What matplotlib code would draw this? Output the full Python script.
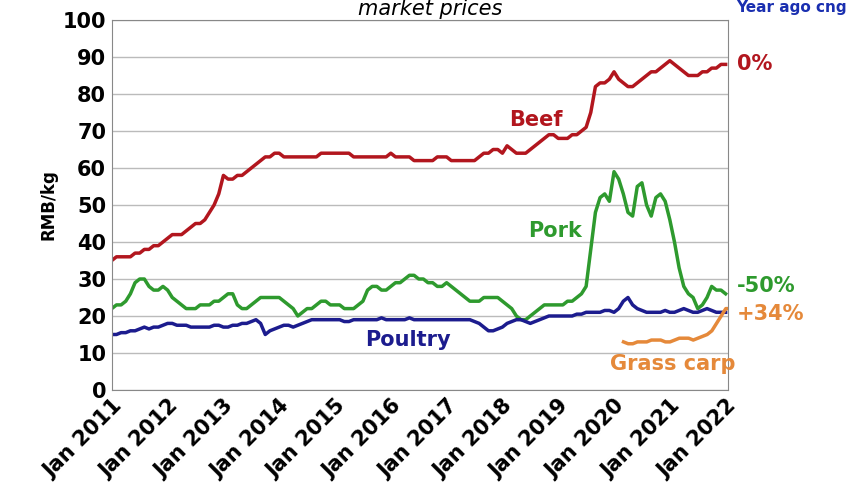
import matplotlib
matplotlib.use("Agg")
import matplotlib.pyplot as plt
import numpy as np

beef = [35,36,36,36,36,37,37,38,38,39,39,40,
        41,42,42,42,43,44,45,45,46,48,50,53,
        58,57,57,58,58,59,60,61,62,63,63,64,
        64,63,63,63,63,63,63,63,63,64,64,64,
        64,64,64,64,63,63,63,63,63,63,63,63,
        64,63,63,63,63,62,62,62,62,62,63,63,
        63,62,62,62,62,62,62,63,64,64,65,65,
        64,66,65,64,64,64,65,66,67,68,69,69,
        68,68,68,69,69,70,71,75,82,83,83,84,
        86,84,83,82,82,83,84,85,86,86,87,88,
        89,88,87,86,85,85,85,86,86,87,87,88,
        88]
pork = [22,23,23,24,26,29,30,30,28,27,27,28,
        27,25,24,23,22,22,22,23,23,23,24,24,
        25,26,26,23,22,22,23,24,25,25,25,25,
        25,24,23,22,20,21,22,22,23,24,24,23,
        23,23,22,22,22,23,24,27,28,28,27,27,
        28,29,29,30,31,31,30,30,29,29,28,28,
        29,28,27,26,25,24,24,24,25,25,25,25,
        24,23,22,20,19,19,20,21,22,23,23,23,
        23,23,24,24,25,26,28,38,48,52,53,51,
        59,57,53,48,47,55,56,50,47,52,53,51,
        46,40,33,28,26,25,22,23,25,28,27,27,
        26]
poultry = [15,15,15.5,15.5,16,16,16.5,17,16.5,17,17,17.5,
           18,18,17.5,17.5,17.5,17,17,17,17,17,17.5,17.5,
           17,17,17.5,17.5,18,18,18.5,19,18,15,16,16.5,
           17,17.5,17.5,17,17.5,18,18.5,19,19,19,19,19,
           19,19,18.5,18.5,19,19,19,19,19,19,19.5,19,
           19,19,19,19,19.5,19,19,19,19,19,19,19,
           19,19,19,19,19,19,18.5,18,17,16,16,16.5,
           17,18,18.5,19,19,18.5,18,18.5,19,19.5,20,20,
           20,20,20,20,20.5,20.5,21,21,21,21,21.5,21.5,
           21,22,24,25,23,22,21.5,21,21,21,21,21.5,
           21,21,21.5,22,21.5,21,21,21.5,22,21.5,21,21,
           21]
carp = [13,12.5,12.5,13,13,13,13.5,13.5,13.5,13,13,13.5,
        14,14,14,13.5,14,14.5,15,16,18,20,22,22]

start = 2011.0
def xs(n, s=start):
    return s + np.arange(n) / 12.0

red, green, navy, orange = "#B2161E", "#2E9A2E", "#1C1C8E", "#E5893A"

fig = plt.figure(figsize=(8.6, 5), dpi=100)
ax = fig.add_axes([0.130, 0.22, 0.717, 0.74])
ax.plot(xs(len(beef)), beef, color=red, lw=2.5)
ax.plot(xs(len(pork)), pork, color=green, lw=2.5)
ax.plot(xs(len(poultry)), poultry, color=navy, lw=2.5)
ax.plot(xs(len(carp), 2020.17), carp, color=orange, lw=2.5)

ax.set_xlim(2011.0, 2022.05)
ax.set_ylim(0, 100)
ax.set_yticks(range(0, 101, 10))
ax.set_xticks(range(2011, 2023))
ax.set_xticklabels([f"Jan {y}" for y in range(2011, 2023)], rotation=45,
                   ha="right", rotation_mode="anchor", fontsize=15, fontweight="bold")
for t in ax.get_yticklabels():
    t.set_fontsize(15); t.set_fontweight("bold")
ax.grid(axis="y", color="#bbbbbb", lw=1)
ax.set_axisbelow(True)
ax.tick_params(length=0, pad=4)
for s in ax.spines.values():
    s.set_color("#888888")
ax.set_ylabel("RMB/kg", fontsize=12, fontweight="bold")

ax.text(2018.6, 73, "Beef", color=red, fontsize=15, fontweight="bold", ha="center", va="center")
ax.text(2018.95, 43, "Pork", color=green, fontsize=15, fontweight="bold", ha="center", va="center")
ax.text(2016.3, 13.5, "Poultry", color=navy, fontsize=15, fontweight="bold", ha="center", va="center")
ax.text(2021.05, 7, "Grass carp", color=orange, fontsize=15, fontweight="bold", ha="center", va="center")
ax.text(2022.2, 88, "0%", color=red, fontsize=15, fontweight="bold", va="center", clip_on=False)
ax.text(2022.2, 28, "-50%", color=green, fontsize=15, fontweight="bold", va="center", clip_on=False)
ax.text(2022.2, 20.5, "+34%", color=orange, fontsize=15, fontweight="bold", va="center", clip_on=False)

fig.text(0.5, 0.982, "market prices", fontsize=15, style="italic", ha="center", va="center")
fig.text(0.92, 0.985, "Year ago cng", fontsize=11, fontweight="bold", color="#1a2fb0",
         ha="center", va="center")
fig.savefig("out.png", dpi=100)
